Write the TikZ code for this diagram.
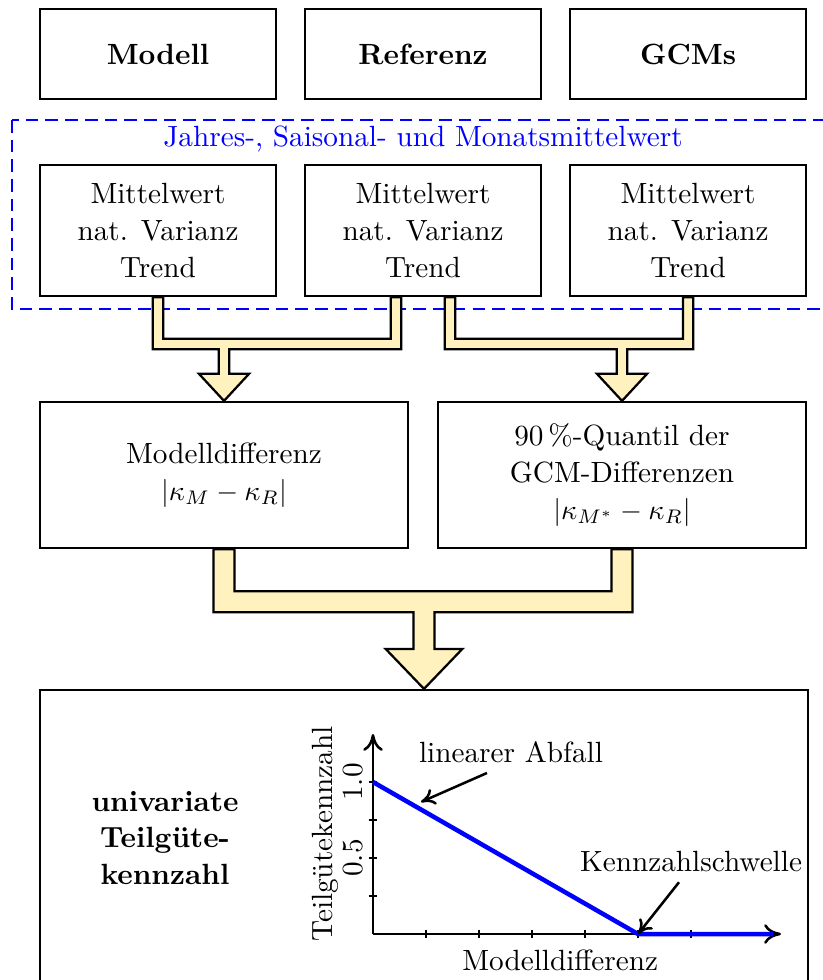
\documentclass[tikz,border=0pt]{standalone}
\usepackage{fontspec}
\usepackage{xcolor}
\definecolor{arrowfill}{HTML}{FFF2BE}
\usetikzlibrary{positioning, calc, arrows.meta}

% fat merging arrow: left source, right source, tip, half shaft, drop to bar, half head, head length
\newcommand{\mergearrow}[7]{%
  \draw[fatarrow] let \p1=(#1), \p2=(#2), \p3=(#3) in
    (\x1-#4,\y1) -- (\x1-#4,\y1-#5) -- (\x3-#4,\y1-#5) -- (\x3-#4,\y3+#7)
    -- (\x3-#6,\y3+#7) -- (\p3) -- (\x3+#6,\y3+#7) -- (\x3+#4,\y3+#7)
    -- (\x3+#4,\y1-#5) -- (\x2+#4,\y1-#5) -- (\x2+#4,\y2) -- (\x2-#4,\y2)
    -- (\x2-#4,\y1-#5+2*#4) -- (\x1+#4,\y1-#5+2*#4) -- (\x1+#4,\y1) -- cycle;
}

\begin{document}
\begin{tikzpicture}[
        font=\fontsize{10.4}{13}\selectfont,
        node distance=0.797cm and 0.335cm,
        quelle/.style={draw, thick, rectangle, minimum width=2.95cm, minimum height=1.125cm, align=center, font=\fontsize{10.4}{13}\selectfont\bfseries},
        kennwert/.style={draw, thick, rectangle, minimum width=2.95cm, minimum height=1.6375cm, align=center},
        differenz/.style={draw, thick, rectangle, minimum width=4.6cm, minimum height=1.825cm, align=center},
        fatarrow/.style={draw=black, thick, fill=arrowfill, line join=miter},
        zeitraum/.style={draw=blue, thick, dash pattern=on 4.5pt off 2.5pt},
        kurve/.style={draw=blue, line width=1.6pt},
        achse/.style={-{To[length=6pt, width=7pt]}, line width=0.9pt},
        hinweis/.style={-{To[length=5pt, width=6pt]}, line width=0.9pt}
    ]
        \clip (0,0) rectangle (10.2875,-12.25);

        % Data sources
        \node[quelle] (modell) at (1.975,-0.675) {Modell};
        \node[quelle, right=of modell] (referenz) {Referenz};
        \node[quelle, right=of referenz] (gcms) {GCMs};

        % Statistics per source
        \node[kennwert, below=of modell] (modellstat) {Mittelwert\\nat. Varianz\\Trend};
        \node[kennwert, below=of referenz] (referenzstat) {Mittelwert\\nat. Varianz\\Trend};
        \node[kennwert, below=of gcms] (gcmstat) {Mittelwert\\nat. Varianz\\Trend};

        % Averaging periods
        \draw[zeitraum] (0.15,-1.5) rectangle (10.5,-3.8625);
        \node[text=blue] (zeitraumtext) at (referenz |- 0,-1.74) {Jahres-, Saisonal- und Monatsmittelwert};

        % Differences
        \node[differenz] (diffM) at (2.8,-5.9375) {Modelldifferenz\\$|\kappa_M-\kappa_R|$};
        \node[differenz, right=0.347cm of diffM] (diffG) {90\,\%-Quantil der\\GCM-Differenzen\\$|\kappa_{M^*}-\kappa_R|$};

        % Result
        \node[draw, thick, rectangle, minimum width=9.6cm, minimum height=4cm] (ergebnis) at (5.3,-10.625) {};
        \node[align=center, font=\fontsize{10.4}{13}\selectfont\bfseries] (teilguete) at (2.0625,-10.475) {univariate\\Teilgüte-\\kennzahl};

        % Fat arrows
        \mergearrow{modellstat.south}{[xshift=-0.3375cm]referenzstat.south}{diffM.north}{0.065cm}{0.65cm}{0.3125cm}{0.3375cm}
        \mergearrow{[xshift=0.3375cm]referenzstat.south}{gcmstat.south}{diffG.north}{0.065cm}{0.65cm}{0.3125cm}{0.3375cm}
        \mergearrow{diffM.south}{diffG.south}{ergebnis.north}{0.13cm}{0.7875cm}{0.48cm}{0.5cm}

        % Sketch of the score function
        \begin{scope}[shift={(4.6625,-11.675)}]
            \coordinate (ursprung) at (0,0);
            \coordinate (xende) at (5.1,0);
            \coordinate (yende) at (0,2.5);
            \draw[achse] (ursprung) -- (xende);
            \draw[achse] (ursprung) -- (yende);
            \foreach \i in {1,...,6}
                \draw[line width=0.9pt] (\i*0.6625,0.055) -- (\i*0.6625,-0.055);
            \foreach \j in {1,...,4}
                \draw[line width=0.9pt] (-0.055,\j*0.475) -- (0.055,\j*0.475);
            \node[rotate=90] (eins) at (-0.25,1.9) {1.0};
            \node[rotate=90] (halb) at (-0.25,0.95) {0.5};
            \node[rotate=90] (ylabel) at (-0.59,1.25) {Teilgütekennzahl};
            \node (xlabel) at (2.34,-0.33) {Modelldifferenz};

            \coordinate (start) at (0,1.9);
            \coordinate (schwelle) at (3.3125,0);
            \coordinate (ende) at (5.0,0);
            \draw[kurve] (start) -- (schwelle) -- (ende);

            \node (abfall) at (1.725,2.27) {linearer Abfall};
            \coordinate (abfallziel) at (0.6,1.65);
            \draw[hinweis] ([xshift=-0.3cm]abfall.south) -- (abfallziel);
            \node (schwelltext) at (3.975,0.9) {Kennzahlschwelle};
            \draw[hinweis] ([xshift=-0.15cm]schwelltext.south) -- (schwelle);
        \end{scope}
    \end{tikzpicture}
\end{document}
